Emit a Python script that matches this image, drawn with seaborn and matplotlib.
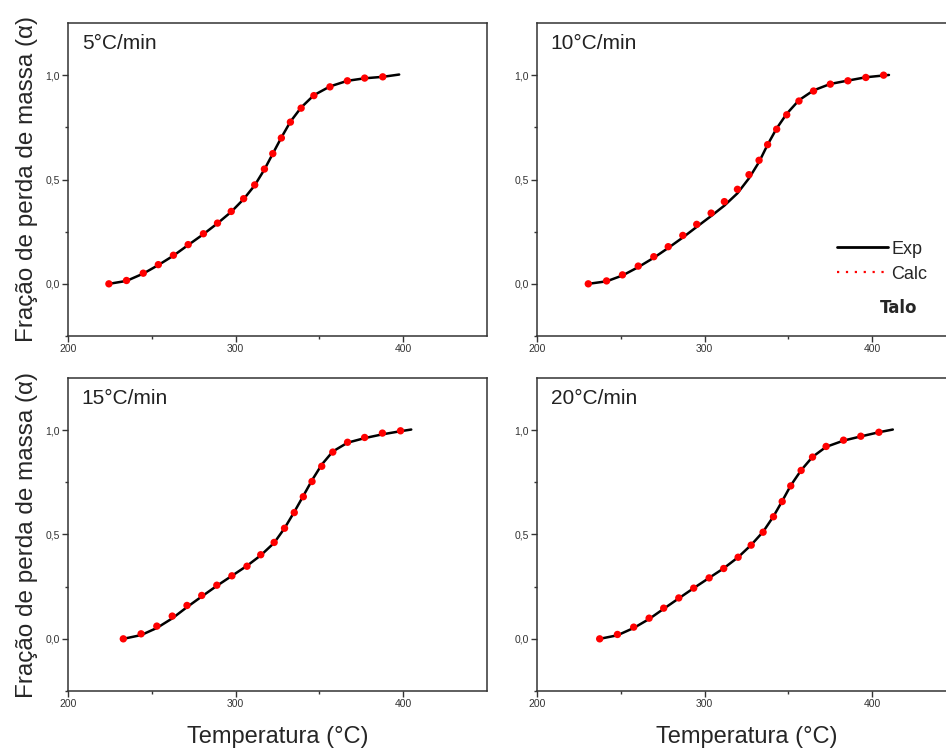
import matplotlib
matplotlib.use("Agg")
import matplotlib.pyplot as plt
import seaborn as sns
from matplotlib.lines import Line2D
from matplotlib.ticker import FixedLocator

# heating rates (one panel each)
rates = ['5°C/min', '10°C/min', '15°C/min', '20°C/min']

# calculated points (red) - temperature (°C) and conversion alpha
calc_t_5 = [224.4, 234.9, 244.9, 253.9, 262.9, 271.7, 280.8, 289.2, 297.4, 304.8, 311.4,
            317.2, 322.2, 327.3, 332.7, 339.1, 346.7, 356.3, 366.7, 377.0, 387.8]
calc_a_5 = [0.000, 0.016, 0.051, 0.092, 0.137, 0.188, 0.240, 0.291, 0.347, 0.408, 0.474,
            0.550, 0.624, 0.699, 0.775, 0.842, 0.902, 0.944, 0.973, 0.986, 0.992]

calc_t_10 = [230.6, 241.5, 251.0, 260.4, 269.7, 278.3, 287.0, 295.3, 303.9, 311.8, 319.6,
             326.5, 332.5, 337.6, 343.0, 349.0, 356.3, 365.0, 375.0, 385.5, 396.2, 406.8]
calc_a_10 = [0.000, 0.014, 0.043, 0.085, 0.130, 0.178, 0.232, 0.285, 0.339, 0.394, 0.453,
             0.523, 0.592, 0.667, 0.741, 0.810, 0.876, 0.924, 0.957, 0.973, 0.989, 1.000]

calc_t_15 = [233.0, 243.6, 253.0, 262.2, 271.0, 279.8, 288.8, 297.8, 306.8, 315.0, 323.0,
             329.2, 335.0, 340.4, 345.6, 351.4, 358.0, 366.8, 377.0, 387.6, 398.4]
calc_a_15 = [0.000, 0.024, 0.061, 0.109, 0.160, 0.208, 0.257, 0.302, 0.348, 0.403, 0.462,
             0.530, 0.605, 0.681, 0.754, 0.827, 0.895, 0.942, 0.965, 0.986, 0.997]

calc_t_20 = [237.4, 248.0, 257.7, 266.9, 275.6, 284.6, 293.5, 302.7, 311.4, 320.0, 327.8,
             334.9, 341.1, 346.3, 351.4, 357.6, 364.4, 372.5, 382.9, 393.2, 404.0]
calc_a_20 = [0.000, 0.021, 0.056, 0.099, 0.147, 0.196, 0.243, 0.292, 0.337, 0.391, 0.449,
             0.511, 0.585, 0.658, 0.733, 0.807, 0.871, 0.922, 0.952, 0.971, 0.990]

# experimental curves (black)
exp_t_5 = [224.4, 234.9, 244.9, 253.9, 262.9, 271.7, 280.8, 289.2, 297.4, 304.8, 311.4,
           317.2, 322.2, 327.3, 332.7, 339.1, 346.7, 356.3, 366.7, 377.0, 387.8, 397.6]
exp_a_5 = [0.000, 0.014, 0.049, 0.090, 0.135, 0.186, 0.238, 0.290, 0.345, 0.406, 0.472,
           0.548, 0.624, 0.701, 0.777, 0.845, 0.904, 0.946, 0.973, 0.985, 0.992, 1.003]

exp_t_10 = [230.6, 241.5, 251.0, 260.4, 269.7, 278.3, 287.0, 295.3, 303.9, 311.8, 319.6,
            326.5, 332.5, 337.6, 343.0, 349.0, 356.3, 365.0, 375.0, 385.5, 396.2, 410.0]
exp_a_10 = [0.000, 0.012, 0.040, 0.080, 0.125, 0.172, 0.222, 0.273, 0.325, 0.375, 0.434,
            0.506, 0.584, 0.667, 0.745, 0.815, 0.880, 0.927, 0.958, 0.974, 0.990, 1.001]

exp_t_15 = [233.0, 243.6, 253.0, 262.2, 271.0, 279.8, 288.8, 297.8, 306.8, 315.0, 323.0,
            329.2, 335.0, 340.4, 345.6, 351.4, 358.0, 366.8, 377.0, 387.6, 398.4, 404.8]
exp_a_15 = [0.000, 0.018, 0.052, 0.098, 0.152, 0.203, 0.254, 0.302, 0.350, 0.400, 0.460,
            0.530, 0.608, 0.685, 0.760, 0.835, 0.898, 0.940, 0.962, 0.980, 0.995, 1.003]

exp_t_20 = [237.4, 248.0, 257.7, 266.9, 275.6, 284.6, 293.5, 302.7, 311.4, 320.0, 327.8,
            334.9, 341.1, 346.3, 351.4, 357.6, 364.4, 372.5, 382.9, 393.2, 404.0, 412.3]
exp_a_20 = [0.000, 0.017, 0.052, 0.095, 0.144, 0.194, 0.243, 0.292, 0.338, 0.391, 0.450,
            0.513, 0.587, 0.660, 0.735, 0.808, 0.872, 0.920, 0.950, 0.970, 0.990, 1.003]

calc_t = [calc_t_5, calc_t_10, calc_t_15, calc_t_20]
calc_a = [calc_a_5, calc_a_10, calc_a_15, calc_a_20]
exp_t = [exp_t_5, exp_t_10, exp_t_15, exp_t_20]
exp_a = [exp_a_5, exp_a_10, exp_a_15, exp_a_20]

y_ticks = [0.0, 0.5, 1.0]
y_tick_labels = ['0,0', '0,5', '1,0']
x_ticks = [200, 300, 400]
x_tick_labels = ['200', '300', '400']

sns.set_style("ticks")
plt.rcParams['font.family'] = ['Liberation Sans', 'DejaVu Sans']

fig = plt.figure(figsize=(9.46, 7.53), dpi=100)

# panel boxes in pixels: left edge, bottom edge
W, H = 946, 753
boxes = [(68, 336), (537, 336), (68, 691), (537, 691)]
ax_w, ax_h = 419, 313

spine_col = '#333333'
for i, (left, bottom) in enumerate(boxes):
    ax = fig.add_axes([left / W, 1 - bottom / H, ax_w / W, ax_h / H])
    sns.lineplot(x=exp_t[i], y=exp_a[i], ax=ax, color='black', linewidth=1.8,
                 sort=False, estimator=None)
    sns.scatterplot(x=calc_t[i], y=calc_a[i], ax=ax, color='#ff0000', s=28,
                    edgecolor='none', zorder=3)
    ax.set_xlim(200, 450)
    ax.set_ylim(-0.25, 1.25)
    ax.set_xticks(x_ticks)
    ax.set_xticklabels(x_tick_labels)
    ax.set_yticks(y_ticks)
    ax.set_yticklabels(y_tick_labels)
    ax.xaxis.set_minor_locator(FixedLocator([250, 350]))
    ax.yaxis.set_minor_locator(FixedLocator([-0.25, 0.25, 0.75]))
    ax.tick_params(which='major', length=4, width=1, color=spine_col,
                   labelsize=7.5, labelcolor='#333333', pad=2)
    ax.tick_params(which='minor', length=2, width=1, color=spine_col)
    for s in ax.spines.values():
        s.set_color(spine_col)
        s.set_linewidth(1.1)
    ax.text(0.033, 0.936, rates[i], transform=ax.transAxes, fontsize=15,
            ha='left', va='center', color='#222222')
    if i in (0, 2):
        ax.set_ylabel('Fração de perda de massa (α)', fontsize=17.5, labelpad=5)
    if i in (2, 3):
        ax.set_xlabel('Temperatura (°C)', fontsize=17, labelpad=12)
    if i == 1:
        handles = [Line2D([], [], color='black', linewidth=2),
                   Line2D([], [], color='red', linewidth=1.6, linestyle=(0, (1, 3)))]
        ax.legend(handles, ['Exp', 'Calc'], loc='upper left', bbox_to_anchor=(0.686, 0.345),
                  frameon=False, fontsize=13, handlelength=2.8, handletextpad=0.2,
                  labelspacing=0.45, borderpad=0.2)
        ax.text(0.862, 0.089, 'Talo', transform=ax.transAxes, fontsize=12,
                fontweight='bold', family='DejaVu Sans', ha='center', va='center')

fig.savefig('out.png', dpi=100)
